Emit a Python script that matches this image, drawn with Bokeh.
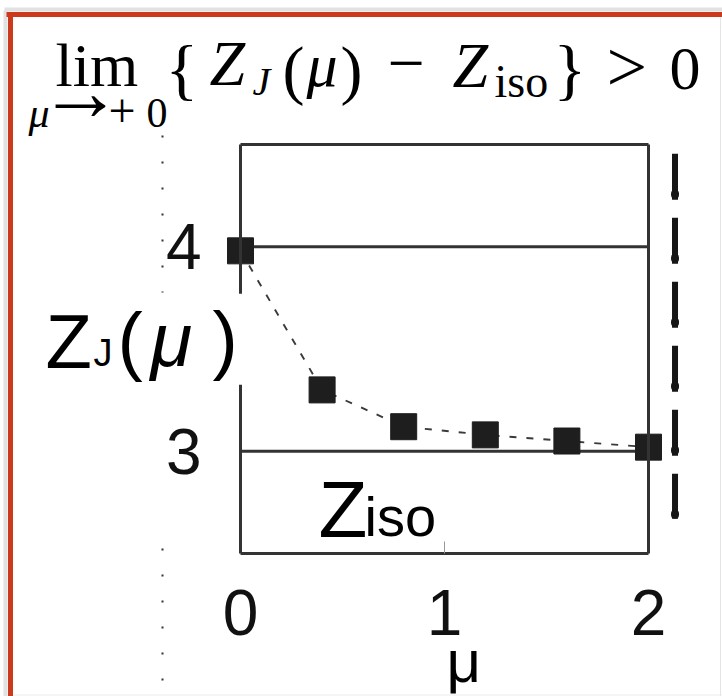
from bokeh.plotting import figure
from bokeh.models import Label, Arrow, LinearAxis, FixedTicker
from bokeh.embed import file_html
from bokeh.resources import INLINE

# Z_J(mu) sampled on a regular grid of mu
mu = [0.0, 0.4, 0.8, 1.2, 1.6, 2.0]
zj = [3.98, 3.30, 3.12, 3.08, 3.05, 3.02]
z_levels = [4.0, 3.0]          # reference levels (Z_J(0) and Z_iso)
x_ticks = [0, 1, 2]
y_ticks = [3, 4]
x_box = (0.0, 2.0)
y_box = (2.5, 4.5)
mu_cut = 2.13                  # dashed vertical marker beyond the last sample
cut_span = [4.455, 2.67]

W, H = 722, 696
FL, FR, FT, FB = 240, 648, 144, 553   # box edges in page pixels

# data ranges so that the box sits at FL..FR / FT..FB of a full-page frame
kx = (FR - FL) / (x_box[1] - x_box[0])
ky = (FB - FT) / (y_box[1] - y_box[0])
x_rng = (x_box[0] - FL / kx, x_box[1] + (W - FR) / kx)
y_rng = (y_box[0] - (H - FB) / ky, y_box[1] + FT / ky)

p = figure(width=W, height=H, x_range=x_rng, y_range=y_rng,
           output_backend="svg", toolbar_location=None,
           x_axis_location=None, y_axis_location=None,
           min_border=0)
p.background_fill_color = "white"
p.border_fill_color = "white"
p.outline_line_color = None
p.grid.visible = False

SANS = "Liberation Sans"
SERIF = "Liberation Serif"
BOX = "#333333"


def box_axis(loc, side, ticks=None):
    ax = LinearAxis(fixed_location=loc,
                    bounds=x_box if side in ("below", "above") else y_box,
                    axis_line_color=BOX, axis_line_width=3,
                    minor_tick_line_color=None)
    if ticks is None:
        ax.ticker = FixedTicker(ticks=[])
        ax.major_tick_line_color = None
        ax.major_label_text_font_size = "0px"
    else:
        ax.ticker = FixedTicker(ticks=ticks)
        ax.major_label_text_font = SANS
        ax.major_label_text_font_size = "64px"
        ax.major_label_text_color = "#111111"
    p.add_layout(ax, side)
    return ax


xa = box_axis(y_box[0], "below", x_ticks)
xa.major_tick_in = 12
xa.major_tick_out = 0
xa.major_tick_line_width = 1
xa.major_tick_line_color = "#999999"
xa.major_label_standoff = 36
ya = box_axis(x_box[0], "left", y_ticks)
ya.major_tick_line_color = None
ya.major_label_standoff = 33
box_axis(y_box[1], "above")
box_axis(x_box[1], "right")

# horizontal reference levels across the box
p.segment(x0=x_box[0], x1=x_box[1], y0=z_levels, y1=z_levels, line_color=BOX, line_width=3)

p.line(mu, zj, line_dash="7 10", line_width=1.9, line_color="#3a3a3a")
p.scatter(mu, zj, marker="square", size=26, fill_color="#1e1e1e", line_color="#1e1e1e")

# dashed vertical marker with droplet ends
p.line([mu_cut, mu_cut], cut_span, line_color="#161616", line_width=6, line_dash="46 18")
p.line([mu_cut, mu_cut], cut_span, line_color="#161616", line_width=8, line_cap="round",
       line_dash="1 63", line_dash_offset=24)


def sx(px):
    return px


def sy(py):
    return H - py


def lab(px, py, text, size, font=SANS, style="normal", **kw):
    # py is the wanted baseline in page pixels
    p.add_layout(Label(x=sx(px), y=sy(py - 0.305 * size), x_units="screen", y_units="screen",
                       text=text, text_font=font, text_font_size=f"{size}px",
                       text_font_style=style, text_baseline="alphabetic", text_align="left",
                       text_color="black", **kw))


def seg(x0, y0, x1, y1, color, width, dash="solid"):
    p.add_layout(Arrow(start=None, end=None, x_start=sx(x0), y_start=sy(y0), x_end=sx(x1), y_end=sy(y1),
                       start_units="screen", end_units="screen",
                       line_color=color, line_width=width, line_dash=dash))


# page frame
seg(4, 9, W, 9, "#e2e2e2", 4)
seg(5, 10, 5, H, "#e2e2e2", 4)
seg(6, 14, W, 14, "#cc3a1e", 5)
seg(10, 12, 10, H, "#cc3a1e", 5)
seg(720, 17, 720, H, "#e4e4e4", 1)
seg(13, 694.5, W, 694.5, "#ebebeb", 1)

# dotted guide on the left
seg(162, 135, 162, 292, "#333333", 2, "2 24")
seg(162, 548, 162, 690, "#333333", 2, "2 24")

# formula heading
lab(55, 83, "lim", 62, SERIF)
lab(28, 125, "μ", 42, SERIF, "italic")
lab(38, 117, "→", 84, SERIF)
lab(108, 125, "+", 48, SERIF)
lab(146, 125, "0", 42, SERIF)
lab(165, 89, "{", 68, SERIF)
lab(209, 83, "Z", 64, SERIF, "italic")
lab(252, 93, "J", 40, SERIF, "italic")
lab(282, 89, "(", 66, SERIF)
lab(306, 83, "μ", 62, SERIF, "italic")
lab(340, 89, ")", 66, SERIF)
lab(387, 83, "−", 66, SERIF)
lab(452, 85, "Z", 64, SERIF, "italic")
lab(494, 95, "iso", 46, SERIF)
lab(553, 89, "}", 68, SERIF)
lab(606, 88, ">", 72, SERIF)
lab(669, 87, "0", 62, SERIF)

# vertical axis title
lab(45, 364, "Z", 76)
lab(93, 364, "J", 38)
lab(117, 362, "(", 76)
lab(150, 362, "μ", 76, SANS, "italic")
lab(212, 362, ")", 76, SANS, "normal", background_fill_color="white",
    padding=dict(left=0, right=10, top=2, bottom=4))

# horizontal axis title
lab(446, 679, "μ", 60)

# level label
lab(318, 533, "Z", 80)
lab(364, 533, "iso", 56)

open("out.html", "w").write(file_html(p, INLINE))
